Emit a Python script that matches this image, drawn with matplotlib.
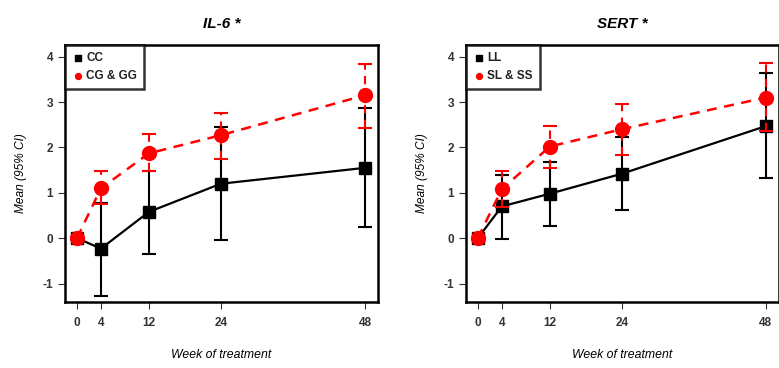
import numpy as np
import matplotlib
matplotlib.use("Agg")
import matplotlib.pyplot as plt

plt.rcParams['font.family'] = ['Liberation Sans', 'DejaVu Sans']
plt.rcParams['axes.unicode_minus'] = False

weeks = [0, 4, 12, 24, 48]

# IL-6 panel
il6_cc = [0, -0.23, 0.58, 1.20, 1.55]
il6_cc_lo = [0, -1.27, -0.36, -0.03, 0.24]
il6_cc_hi = [0, 0.78, 1.48, 2.45, 2.87]
il6_gg = [0, 1.10, 1.87, 2.27, 3.15]
il6_gg_lo = [0, 0.75, 1.47, 1.75, 2.43]
il6_gg_hi = [0, 1.47, 2.30, 2.75, 3.83]

# SERT panel
sert_ll = [0, 0.70, 0.98, 1.42, 2.47]
sert_ll_lo = [0, -0.02, 0.27, 0.61, 1.32]
sert_ll_hi = [0, 1.40, 1.67, 2.22, 3.63]
sert_ss = [0, 1.08, 2.02, 2.40, 3.10]
sert_ss_lo = [0, 0.68, 1.55, 1.83, 2.37]
sert_ss_hi = [0, 1.48, 2.47, 2.95, 3.87]

panels = [
    ("IL-6 *", ["CC", "CG & GG"], il6_cc, il6_cc_lo, il6_cc_hi, il6_gg, il6_gg_lo, il6_gg_hi),
    ("SERT *", ["LL", "SL & SS"], sert_ll, sert_ll_lo, sert_ll_hi, sert_ss, sert_ss_lo, sert_ss_hi),
]

fig = plt.figure(figsize=(7.79, 3.68), dpi=100)
lefts = [0.0834, 0.598]
tick_col = '#333333'

for left, (title, labels, m1, lo1, hi1, m2, lo2, hi2) in zip(lefts, panels):
    ax = fig.add_axes([left, 0.179, 0.402, 0.699])
    m1 = np.array(m1); m2 = np.array(m2)
    err1 = [m1 - np.array(lo1), np.array(hi1) - m1]
    err2 = [m2 - np.array(lo2), np.array(hi2) - m2]

    # black series
    ax.errorbar(weeks[1:], m1[1:], yerr=[e[1:] for e in err1], fmt='none',
                ecolor='black', elinewidth=1.5, capsize=5, capthick=1.5, zorder=2)
    ax.plot(weeks, m1, color='black', lw=1.6, marker='s', ms=9, zorder=3)

    # red series
    eb = ax.errorbar(weeks[1:], m2[1:], yerr=[e[1:] for e in err2], fmt='none',
                     ecolor='red', elinewidth=1.5, capsize=5, capthick=1.5, zorder=4)
    for lc in eb[2]:
        lc.set_linestyle((0, (4, 3)))
    ax.plot(weeks, m2, color='red', lw=1.8, ls=(0, (4, 3)), marker='o', ms=10, zorder=5)

    ax.set_xlim(-2, 50.2)
    ax.set_ylim(-1.41, 4.26)
    ax.set_xticks(weeks)
    ax.set_yticks([-1, 0, 1, 2, 3, 4])
    ax.tick_params(colors=tick_col, labelsize=8.5, length=5, width=0.8)
    ax.tick_params(axis='x', pad=6)
    for lab in ax.get_xticklabels() + ax.get_yticklabels():
        lab.set_fontweight('bold')
    for s in ax.spines.values():
        s.set_linewidth(1.8)
    ax.set_title(title, fontsize=11, fontweight='bold', style='italic', pad=12)
    ax.set_xlabel('Week of treatment', fontsize=8.8, style='italic', labelpad=14)
    ax.set_ylabel('Mean (95% CI)', fontsize=8.6, style='italic', labelpad=11)

    h1 = ax.scatter([], [], marker='s', color='black', s=14)
    h2 = ax.scatter([], [], marker='o', color='red', s=18)
    leg = ax.legend([h1, h2], labels, loc='upper left', frameon=True,
                    fancybox=False, borderaxespad=0, handletextpad=0.2,
                    handlelength=1.0, borderpad=0.6, labelspacing=0.5,
                    prop={'weight': 'bold', 'size': 8.5})
    leg.get_frame().set_edgecolor('black')
    leg.get_frame().set_linewidth(1.8)
    for t in leg.get_texts():
        t.set_color('#222222')

fig.savefig('out.png', dpi=100)
